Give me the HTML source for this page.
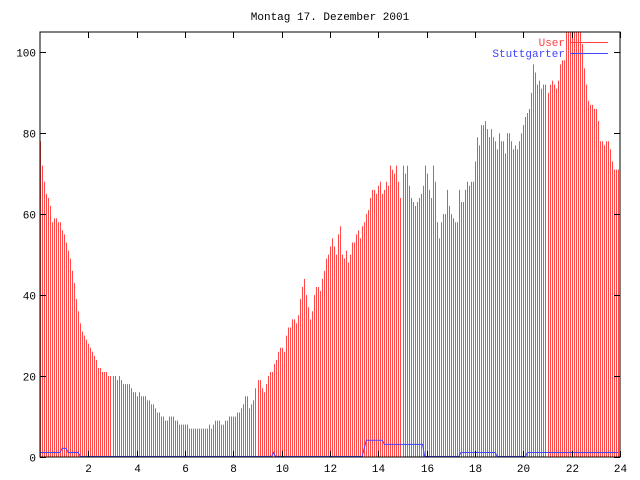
<!DOCTYPE html>
<html><head><meta charset="utf-8"><style>
body{margin:0;background:#fff}
svg{display:block;font-family:"Liberation Mono","DejaVu Sans Mono",monospace;font-size:11px}
</style></head><body>
<svg id="c" width="640" height="480">
<text x="330" y="20" text-anchor="middle">Montag 17. Dezember 2001</text>
<g id="bars"></g>
<polyline id="blue" fill="none" stroke="#4444ff" stroke-width="1"/>
<rect x="40" y="32" width="580" height="425" fill="none" stroke="#000"/>
<g id="axes"></g>
<g>
<text x="565" y="46" text-anchor="end" fill="#ff4040">User</text>
<line x1="570" y1="42.5" x2="608" y2="42.5" stroke="#ff4040"/>
<text x="565" y="57" text-anchor="end" fill="#4444ff">Stuttgarter</text>
<line x1="570" y1="53.5" x2="608" y2="53.5" stroke="#4444ff"/>
</g>
</svg>
<script>
const userValues=[
78,72,68,65,64,62,58,59,59,58,58,56,
55,53,51,49,46,43,39,36,33,31,30,29,
28,27,26,25,24,22,22,21,21,21,20,20,
20,20,19,20,19,18,18,18,18,17,16,16,
15,16,15,15,15,14,14,13,13,12,11,11,
10,10,9,9,10,10,10,9,9,8,8,8,
8,8,7,7,7,7,7,7,7,7,7,7,
8,7,8,9,9,9,8,8,9,9,10,10,
10,10,11,11,12,13,15,15,12,13,14,17,
19,19,17,16,18,20,21,21,23,24,26,27,
27,26,30,32,32,34,34,33,35,39,42,44,
40,37,34,36,40,42,42,41,44,46,49,50,
52,54,52,50,55,57,50,49,51,48,50,53,
53,55,56,54,57,58,60,61,64,66,66,65,
67,68,65,66,68,67,72,71,70,72,68,64,
72,70,72,67,64,63,62,63,64,65,67,72,
70,66,64,72,68,58,54,58,60,60,66,62,
60,59,58,58,66,63,63,66,68,67,68,68,
73,79,77,82,82,83,81,79,81,79,78,76,
80,78,78,75,80,80,78,76,77,76,78,80,
82,84,85,86,90,97,95,92,93,91,92,92,
90,92,93,92,91,93,97,98,98,105,105,105,
105,105,105,105,105,102,96,92,88,87,87,86,
86,83,78,78,77,78,78,76,73,71,71,71];
const stuttValues=[
1,1,1,1,1,1,1,1,1,1,1,2,
2,2,1,1,1,1,1,1,0,0,0,0,
0,0,0,0,0,0,0,0,0,0,0,0,
0,0,0,0,0,0,0,0,0,0,0,0,
0,0,0,0,0,0,0,0,0,0,0,0,
0,0,0,0,0,0,0,0,0,0,0,0,
0,0,0,0,0,0,0,0,0,0,0,0,
0,0,0,0,0,0,0,0,0,0,0,0,
0,0,0,0,0,0,0,0,0,0,0,0,
0,0,0,0,0,0,0,0,1,0,0,0,
0,0,0,0,0,0,0,0,0,0,0,0,
0,0,0,0,0,0,0,0,0,0,0,0,
0,0,0,0,0,0,0,0,0,0,0,0,
0,0,0,0,0,2,4,4,4,4,4,4,
4,4,4,3,3,3,3,3,3,3,3,3,
3,3,3,3,3,3,3,3,3,3,3,0,
0,0,0,0,0,0,0,0,0,0,0,0,
0,0,0,0,0,1,1,1,1,1,1,1,
1,1,1,1,1,1,1,1,1,1,1,0,
0,0,0,0,0,0,0,0,0,0,0,0,
0,0,1,1,1,1,1,1,1,1,1,1,
1,1,1,1,1,1,1,1,1,1,1,1,
1,1,1,1,1,1,1,1,1,1,1,1,
1,1,1,1,1,1,1,1,1,1,1,1];
const yTicks=[0,20,40,60,80,100];
const xTicks=[2,4,6,8,10,12,14,16,18,20,22,24];
const NS="http://www.w3.org/2000/svg";
const X0=40,X1=620,Y0=457,Y1=32,YMAX=105,HMAX=24;
const SPH=12;
function xs(h){return X0+(h/HMAX)*(X1-X0);}
function xi(i){return X0+i*(578/287);}
function ys(v){return Y0-(Math.min(v,YMAX)/YMAX)*(Y0-Y1);}
const bars=document.getElementById('bars');
userValues.forEach((v,i)=>{
  const x=Math.round(xi(i))+0.5;
  const l=document.createElementNS(NS,'line');
  l.setAttribute('x1',x);l.setAttribute('x2',x);
  l.setAttribute('y1',Y0);l.setAttribute('y2',ys(v));
  l.setAttribute('stroke','#ff4848');
  
  
  bars.appendChild(l);
});
const pts=stuttValues.map((v,i)=>xi(i).toFixed(1)+','+(ys(v)-0.5).toFixed(1));
document.getElementById('blue').setAttribute('points',pts.join(' '));
const axes=document.getElementById('axes');
function mk(tag,attrs,name){const e=document.createElementNS(NS,tag);for(const k in attrs)e.setAttribute(k,attrs[k]);
  
  
  axes.appendChild(e);return e;}
yTicks.forEach(v=>{
  const y=Math.round(ys(v))+0.5;
  mk('line',{x1:X0,x2:X0+6,y1:y,y2:y,stroke:'#000'},'y-tick');
  mk('line',{x1:X1-6,x2:X1,y1:y,y2:y,stroke:'#000'},'y-tick-right');
  const t=mk('text',{x:36,y:y+4,'text-anchor':'end'},'y-tick-label');t.textContent=v;
});
xTicks.forEach(h=>{
  const x=Math.round(xs(h))+0.5;
  mk('line',{x1:x,x2:x,y1:Y0,y2:Y0-6,stroke:'#000'},'x-tick');
  mk('line',{x1:x,x2:x,y1:Y1,y2:Y1+6,stroke:'#000'},'x-tick-top');
  const t=mk('text',{x:x,y:472,'text-anchor':'middle'},'x-tick-label');t.textContent=h;
});
</script>
</body></html>
